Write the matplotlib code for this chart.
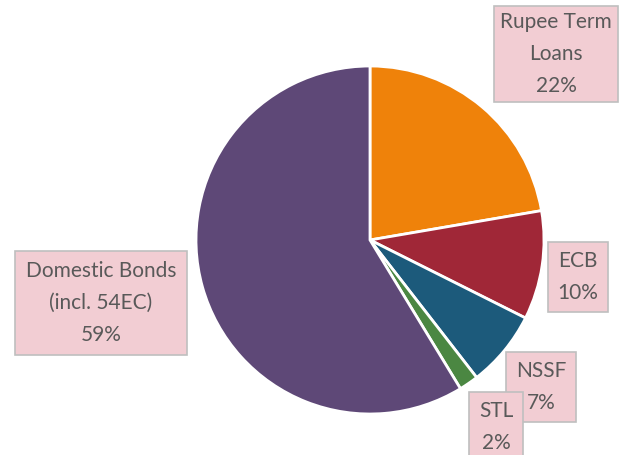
import matplotlib
matplotlib.use("Agg")
import matplotlib.pyplot as plt

# 数据
categories = ["Rupee Term\nLoans", "ECB", "NSSF", "STL", "Domestic Bonds\n(incl. 54EC)"]
shares = [22.3, 10.1, 7.1, 1.8, 58.7]
colors = ["#EF820A", "#A02737", "#1C5A7B", "#4B8742", "#5E4877"]

# 标签框位置 (像素坐标, y 从底部算)
label_pos = [(556, 401), (578, 178), (541, 68), (496, 28), (101, 152)]
label_pad = [0.3, 0.45, 0.45, 0.45, 0.52]

plt.rcParams["font.family"] = ["Lato", "DejaVu Sans"]

fig = plt.figure(figsize=(6.23, 4.55), dpi=100)
ax = fig.add_axes([0, 0, 1, 1])
ax.set_xlim(0, 623)
ax.set_ylim(0, 455)
ax.set_aspect("equal")
ax.axis("off")

ax.pie(shares, colors=colors, startangle=90, counterclock=False,
       center=(370, 215), radius=174,
       wedgeprops=dict(edgecolor="white", linewidth=2.0))

for name, val, (x, y), pad in zip(categories, shares, label_pos, label_pad):
    ax.text(x, y, f"{name}\n{round(val)}%", ha="center", va="center",
            multialignment="center", fontsize=15, color="#595959",
            linespacing=1.72,
            bbox=dict(boxstyle=f"square,pad={pad}", facecolor="#F2CDD3",
                      edgecolor="#BFBFBF", linewidth=1.2))

ax.set_xlim(0, 623)
ax.set_ylim(0, 455)

fig.savefig("out.png", dpi=100)
